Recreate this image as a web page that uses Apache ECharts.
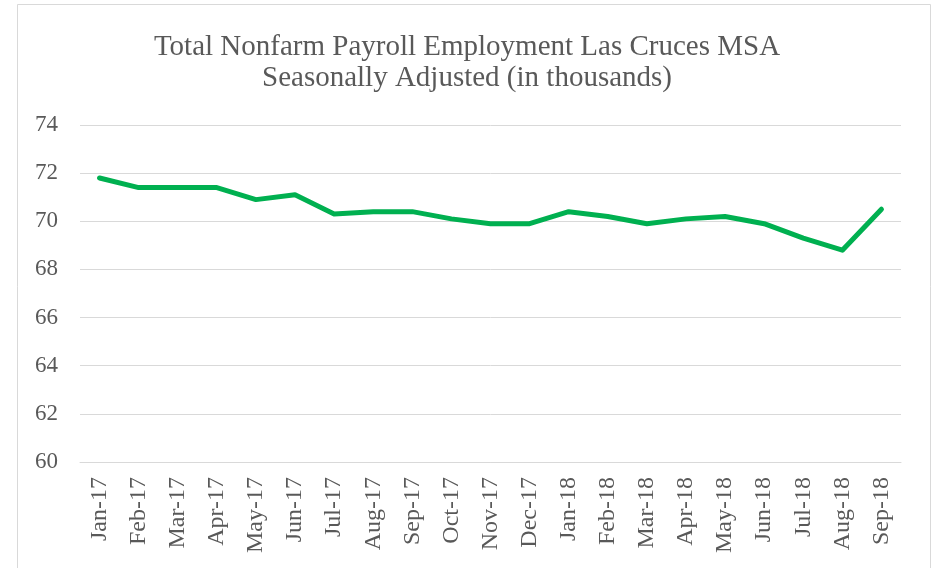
<!DOCTYPE html>
<html>
<head>
<meta charset="utf-8">
<script src="https://cdn.jsdelivr.net/npm/echarts@6/dist/echarts.min.js"></script>
<style>
  html, body { margin: 0; padding: 0; background: #fff; }
  #main { width: 934px; height: 568px; }
</style>
</head>
<body>
<div id="main"></div>
<script>
var months = ['Jan-17', 'Feb-17', 'Mar-17', 'Apr-17', 'May-17', 'Jun-17', 'Jul-17',
    'Aug-17', 'Sep-17', 'Oct-17', 'Nov-17', 'Dec-17', 'Jan-18', 'Feb-18',
    'Mar-18', 'Apr-18', 'May-18', 'Jun-18', 'Jul-18', 'Aug-18', 'Sep-18'];

var employment = [71.8, 71.4, 71.4, 71.4, 70.9, 71.1, 70.3, 70.4, 70.4, 70.1, 69.9,
    69.9, 70.4, 70.2, 69.9, 70.1, 70.2, 69.9, 69.3, 68.8, 70.5];

var titleLines = ['Total Nonfarm Payroll Employment Las Cruces MSA',
    'Seasonally Adjusted (in thousands)'];

var font = '"Liberation Serif", "Times New Roman", serif';

var option = {
    backgroundColor: '#fff',
    animation: false,
    graphic: [{
        type: 'rect',
        shape: { x: 17.5, y: 4.5, width: 913, height: 620 },
        style: { fill: 'none', stroke: '#d9d9d9', lineWidth: 1 }
    }],
    title: {
        text: titleLines.join('\n'),
        left: 'center',
        top: 27,
        textStyle: {
            fontFamily: font,
            fontWeight: 'normal',
            fontSize: 29,
            lineHeight: 31,
            color: '#595959'
        }
    },
    grid: {
        left: 80,
        right: 33,
        top: 125,
        bottom: 106,
        containLabel: false
    },
    xAxis: {
        type: 'category',
        data: months,
        boundaryGap: true,
        axisLine: { show: true, lineStyle: { color: '#d9d9d9', width: 1 } },
        axisTick: { show: false },
        axisLabel: {
            rotate: 90,
            interval: 0,
            margin: 15,
            fontFamily: font,
            fontSize: 24,
            color: '#595959'
        }
    },
    yAxis: {
        type: 'value',
        min: 60,
        max: 74,
        interval: 2,
        axisLine: { show: false },
        axisTick: { show: false },
        splitLine: { lineStyle: { color: '#d9d9d9', width: 1 } },
        axisLabel: {
            margin: 22,
            fontFamily: font,
            fontSize: 23,
            color: '#595959'
        }
    },
    series: [{
        type: 'line',
        data: employment,
        symbol: 'none',
        lineStyle: { color: '#00b050', width: 5, cap: 'round', join: 'round' }
    }]
};

var myChart = echarts.init(document.getElementById('main'));
myChart.setOption(option);
</script>
</body>
</html>
